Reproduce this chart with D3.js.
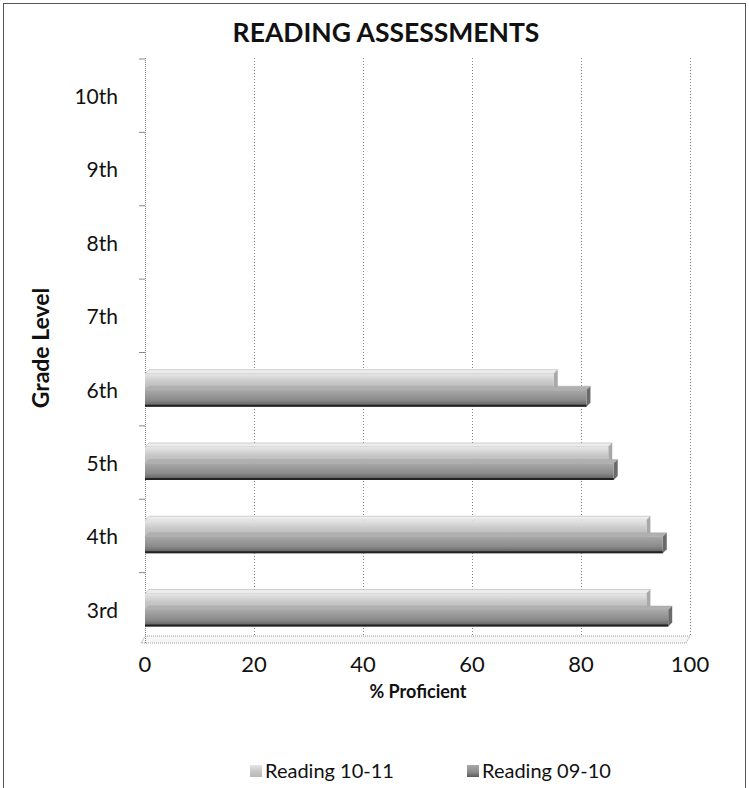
<!DOCTYPE html>
<html><head><meta charset="utf-8">
<script src="https://cdnjs.cloudflare.com/ajax/libs/d3/7.8.5/d3.min.js"></script>
<style>body{margin:0;background:#fff;}svg{display:block;font-family:Lato,"Open Sans",sans-serif;}</style>
</head><body>
<script>
const categories = ["3rd","4th","5th","6th","7th","8th","9th","10th"];
const seriesNames = ["Reading 10-11","Reading 09-10"];
const reading1011 = [92, 92, 85, 75, null, null, null, null];
const reading0910 = [96, 95, 86, 81, null, null, null, null];
const xTicks = [0,20,40,60,80,100];

const W=749,H=788;
const svg=d3.select("body").append("svg").attr("width",W).attr("height",H);

const defs=svg.append("defs");
function grad(id,stops){
  const g=defs.append("linearGradient").attr("id",id).attr("x1",0).attr("y1",0).attr("x2",0).attr("y2",1);
  stops.forEach(s=>g.append("stop").attr("offset",s[0]).attr("stop-color",s[1]));
}
grad("gLight",[[0,"#e6e6e6"],[0.5,"#c8c8c8"],[1,"#b8b8b8"]]);
grad("gDark",[[0,"#a8a8a8"],[0.6,"#8a8a8a"],[1,"#5a5a5a"]]);

// outer border
svg.append("rect").attr("x",3.5).attr("y",3.5).attr("width",742).attr("height",790)
  .attr("fill","none").attr("stroke","#555").attr("stroke-width",1);

const x=d3.scaleLinear().domain([0,100]).range([145,690]);
const y=d3.scaleBand().domain(categories).range([647,60]).paddingInner(0.55).paddingOuter(0.28);
const yLab=d3.scaleBand().domain(categories).range([647,60]);

const plotTop=58, plotBot=636;

// floor
svg.append("path").attr("d",`M${x(0)},${plotBot}L${x(100)},${plotBot}L${x(100)-4},${plotBot+7}L${x(0)-4},${plotBot+7}Z`)
  .attr("fill","#f6f6f6").attr("stroke","#888").attr("stroke-width",0.8).attr("stroke-dasharray","1,1");

// gridlines
svg.append("g").selectAll("line").data(xTicks.slice(1)).join("line")
  .attr("x1",d=>x(d)+0.5).attr("x2",d=>x(d)+0.5).attr("y1",plotTop).attr("y2",plotBot)
  .attr("stroke","#888").attr("stroke-width",1).attr("stroke-dasharray","1,2");

// left axis
svg.append("line").attr("x1",x(0)+0.5).attr("x2",x(0)+0.5).attr("y1",plotTop).attr("y2",plotBot+7)
  .attr("stroke","#888").attr("stroke-dasharray","1,1");
svg.append("g").selectAll("line").data(categories).join("line")
  .attr("x1",x(0)-6).attr("x2",x(0)).attr("y1",d=>yLab(d)-1).attr("y2",d=>yLab(d)-1)
  .attr("stroke","#888");

// bars
const bh=y.bandwidth()/2;
const depth=4;
function bar(vals,offset,fill,dark){
  const data=categories.map((c,i)=>({c,v:vals[i]})).filter(d=>d.v!=null);
  const gg=svg.append("g");
  gg.selectAll("path.top").data(data).join("path")
    .attr("d",d=>{const y0=y(d.c)+offset, x0=x(0), x1=x(d.v);
      return `M${x0},${y0}L${x0+depth},${y0-depth}L${x1+depth},${y0-depth}L${x1},${y0}Z`;})
    .attr("fill",dark?"#b0b0b0":"#ececec").attr("stroke","#aaa").attr("stroke-width",0.5);
  gg.selectAll("path.side").data(data).join("path")
    .attr("d",d=>{const y0=y(d.c)+offset, x1=x(d.v);
      return `M${x1},${y0}L${x1+depth},${y0-depth}L${x1+depth},${y0+bh-depth}L${x1},${y0+bh}Z`;})
    .attr("fill",dark?"#6a6a6a":"#a8a8a8");
  gg.selectAll("rect").data(data).join("rect")
    .attr("x",x(0)).attr("y",d=>y(d.c)+offset).attr("width",d=>x(d.v)-x(0)).attr("height",bh)
    .attr("fill",fill);
  if(dark){
    gg.selectAll("line").data(data).join("line")
      .attr("x1",x(0)).attr("x2",d=>x(d.v)).attr("y1",d=>y(d.c)+offset+bh-1).attr("y2",d=>y(d.c)+offset+bh-1)
      .attr("stroke","#222").attr("stroke-width",2);
  }
}
bar(reading1011,0,"url(#gLight)",false);
bar(reading0910,bh,"url(#gDark)",true);

// y labels
svg.append("g").selectAll("text").data(categories).join("text")
  .attr("x",118).attr("y",d=>yLab(d)+yLab.bandwidth()/2).attr("dy","0.35em")
  .attr("text-anchor","end").attr("font-size",21).attr("fill","#111").text(d=>d);

// x labels
svg.append("g").selectAll("text").data(xTicks).join("text")
  .attr("x",d=>x(d)).attr("y",664).attr("dy","0.35em")
  .attr("text-anchor","middle").attr("font-size",22).attr("fill","#111").text(d=>d);

// titles
svg.append("text").attr("x",386).attr("y",33).attr("dy","0.35em").attr("text-anchor","middle")
  .attr("font-size",26.5).attr("font-weight","bold").attr("fill","#111").text("READING ASSESSMENTS");
svg.append("text").attr("x",418).attr("y",692).attr("dy","0.35em").attr("text-anchor","middle")
  .attr("font-size",18).attr("font-weight","bold").attr("fill","#111").text("% Proficient");
svg.append("text").attr("transform","translate(41,348) rotate(-90)").attr("dy","0.35em").attr("text-anchor","middle")
  .attr("font-size",23).attr("font-weight","bold").attr("fill","#111").text("Grade Level");

// legend
const leg=[{n:seriesNames[0],x:250,f:"url(#gLight)"},{n:seriesNames[1],x:467,f:"url(#gDark)"}];
const lg=svg.append("g").selectAll("g").data(leg).join("g").attr("transform",d=>`translate(${d.x},771)`);
lg.append("rect").attr("x",0).attr("y",-6).attr("width",12).attr("height",12).attr("fill",d=>d.f);
lg.append("text").attr("x",15).attr("y",0).attr("dy","0.35em").attr("font-size",20).attr("fill","#111").text(d=>d.n);
</script>
</body></html>
